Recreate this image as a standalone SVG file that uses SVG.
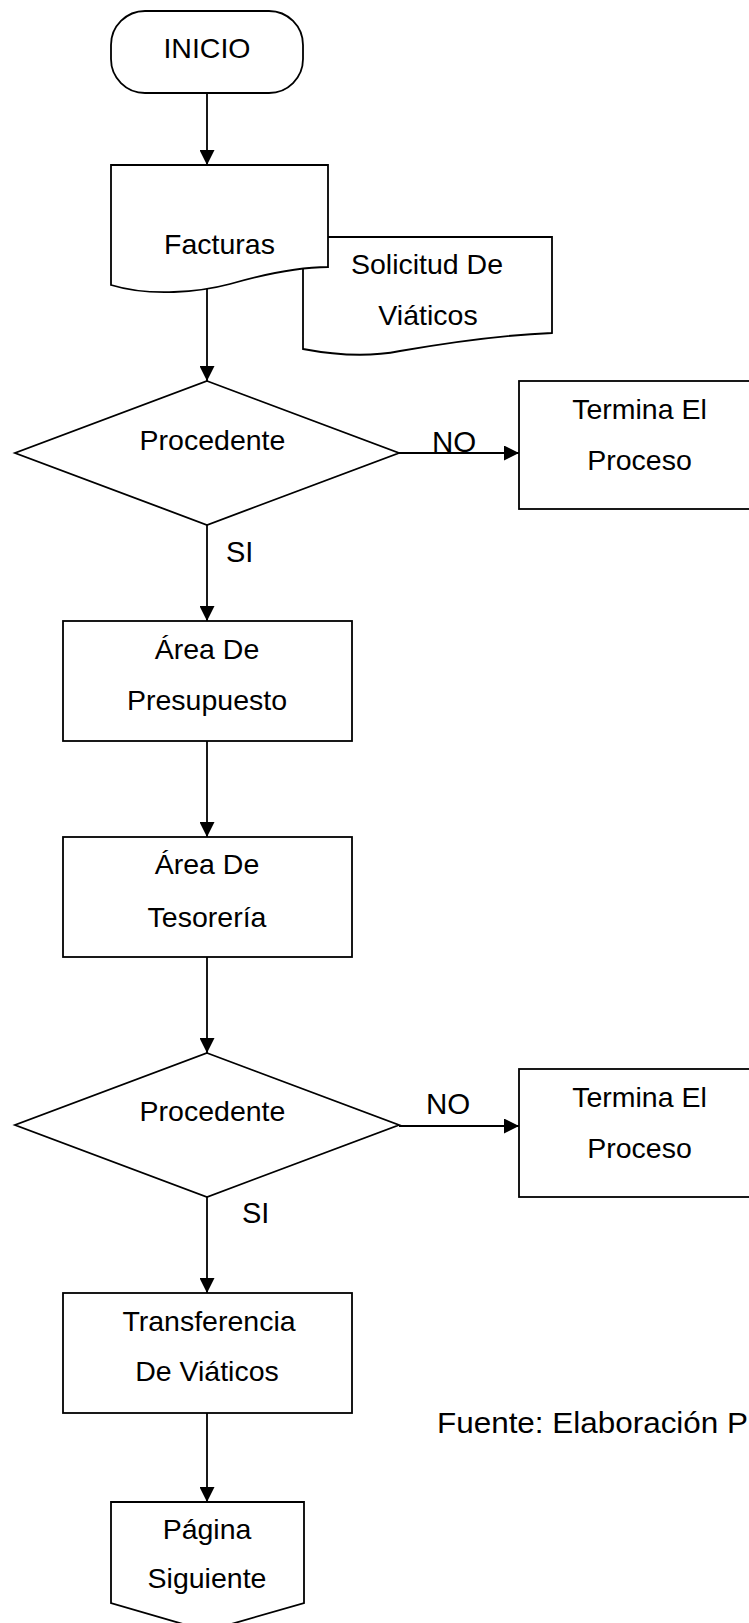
<svg xmlns="http://www.w3.org/2000/svg" width="749" height="1623" viewBox="0 0 749 1623">
  <style>
    .shape { fill: #ffffff; stroke: #000000; stroke-width: 1.8; }
    .edge { fill: none; stroke: #000000; stroke-width: 1.8; }
    text { font-family: "Liberation Sans", Arial, sans-serif; font-size: 28.5px; fill: #000000; }
    .c { text-anchor: middle; }
  </style>
  <defs>
    <marker id="arrow" markerUnits="userSpaceOnUse" markerWidth="15" markerHeight="15" refX="15" refY="7.5" orient="auto">
      <path d="M0,0 L15,7.5 L0,15 Z" fill="#000000"/>
    </marker>
  </defs>
  <rect width="749" height="1623" fill="#ffffff"/>

  <!-- connectors -->
  <g id="connectors">
    <line class="edge" x1="207" y1="93" x2="207" y2="165" marker-end="url(#arrow)"/>
    <line class="edge" x1="207" y1="288" x2="207" y2="381" marker-end="url(#arrow)"/>
    <line class="edge" x1="399" y1="453" x2="519" y2="453" marker-end="url(#arrow)"/>
    <line class="edge" x1="207" y1="525" x2="207" y2="621" marker-end="url(#arrow)"/>
    <line class="edge" x1="207" y1="741" x2="207" y2="837" marker-end="url(#arrow)"/>
    <line class="edge" x1="207" y1="957" x2="207" y2="1053" marker-end="url(#arrow)"/>
    <line class="edge" x1="399" y1="1126" x2="519" y2="1126" marker-end="url(#arrow)"/>
    <line class="edge" x1="207" y1="1197" x2="207" y2="1293" marker-end="url(#arrow)"/>
    <line class="edge" x1="207" y1="1413" x2="207" y2="1502" marker-end="url(#arrow)"/>
    <text x="454" y="452" class="c" style="font-size:29.5px">NO</text>
    <text x="226" y="562" style="font-size:29px">SI</text>
    <text x="448" y="1114" class="c" style="font-size:29.5px">NO</text>
    <text x="242" y="1223" style="font-size:29px">SI</text>
  </g>

  <!-- start terminal -->
  <g id="inicio">
    <rect class="shape" x="111" y="11" width="192" height="82" rx="34" ry="34"/>
    <text x="207" y="58" class="c">INICIO</text>
  </g>

  <!-- second document, drawn first so the first one overlaps it -->
  <g id="solicitud">
    <path class="shape" d="M303,237 H552 V333 C500,335 440,344 400,351 C370,357 340,356 303,349 Z"/>
    <text x="427" y="274" class="c">Solicitud De</text>
    <text x="428" y="325" class="c">Viáticos</text>
  </g>

  <g id="facturas">
    <path class="shape" d="M111,165 H328 V267 C300,267 265,274 230,284 C200,292 150,297 111,285 Z"/>
    <text x="219.5" y="254" class="c">Facturas</text>
  </g>

  <g id="decision1">
    <polygon class="shape" points="207,381 399,453 207,525 15,453"/>
    <text x="212.5" y="450" class="c">Procedente</text>
  </g>

  <g id="fin1">
    <rect class="shape" x="519" y="381" width="245" height="128"/>
    <text x="639.5" y="419" class="c">Termina El</text>
    <text x="639.5" y="470" class="c">Proceso</text>
  </g>

  <g id="presupuesto">
    <rect class="shape" x="63" y="621" width="289" height="120"/>
    <text x="207" y="659" class="c">Área De</text>
    <text x="207" y="710" class="c">Presupuesto</text>
  </g>

  <g id="tesoreria">
    <rect class="shape" x="63" y="837" width="289" height="120"/>
    <text x="207" y="874" class="c">Área De</text>
    <text x="207" y="927" class="c">Tesorería</text>
  </g>

  <g id="decision2">
    <polygon class="shape" points="207,1053 399,1125 207,1197 15,1125"/>
    <text x="212.5" y="1121" class="c">Procedente</text>
  </g>

  <g id="fin2">
    <rect class="shape" x="519" y="1069" width="245" height="128"/>
    <text x="639.5" y="1107" class="c">Termina El</text>
    <text x="639.5" y="1158" class="c">Proceso</text>
  </g>

  <g id="transferencia">
    <rect class="shape" x="63" y="1293" width="289" height="120"/>
    <text x="209" y="1331" class="c">Transferencia</text>
    <text x="207" y="1381" class="c">De Viáticos</text>
  </g>

  <!-- off-page connector -->
  <g id="pagina">
    <polygon class="shape" points="111,1502 304,1502 304,1603 207,1631 111,1603"/>
    <text x="207" y="1539" class="c">Página</text>
    <text x="207" y="1588" class="c">Siguiente</text>
  </g>

  <g id="fuente">
    <text x="437" y="1433" style="font-size:29px" textLength="311" lengthAdjust="spacingAndGlyphs">Fuente: Elaboración P</text>
  </g>
</svg>
